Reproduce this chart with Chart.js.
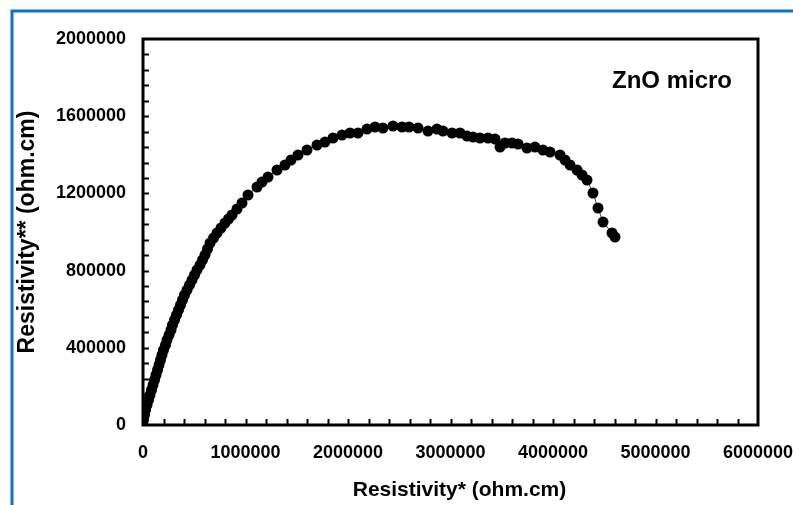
<!DOCTYPE html>
<html>
<head>
<meta charset="utf-8">
<script src="https://cdn.jsdelivr.net/npm/chart.js@4.4.1/dist/chart.umd.min.js"></script>
<style>
    html, body { margin: 0; padding: 0; background: #fff; }
    canvas { display: block; }
</style>
</head>
<body>
<canvas id="chartResistivity" width="793" height="505"></canvas>
<script>
// Resistivity* vs Resistivity** (ohm.cm), ZnO micro sample
var resX = [
    0, 4900, 14600, 24400, 39000, 53700, 68300, 82900, 97600, 112200,
    126800, 141500, 156100, 170700, 185400, 200000, 219500, 234100, 253700, 273200,
    287800, 307300, 326800, 346300, 365900, 385400, 404900, 429300, 453700, 478000,
    502400, 526800, 556100, 580500, 604900, 629300, 653700, 687800, 721900, 761000,
    800000, 834100, 868300, 917100, 965900, 1024400, 1112200, 1161000, 1219500, 1307300,
    1385400, 1443900, 1512200, 1600000, 1697600, 1775600, 1853700, 1941500, 2019500, 2097600,
    2185400, 2263400, 2341000, 2439000, 2527000, 2595000, 2683000, 2780000, 2868000, 2927000,
    3015000, 3093000, 3161000, 3220000, 3288000, 3366000, 3434000, 3483000, 3532000, 3600000,
    3659000, 3746000, 3824000, 3902000, 3971000, 4068000, 4117000, 4166000, 4234000, 4283000,
    4332000, 4390000, 4439000, 4488000, 4576000, 4605000
];
var resY = [
    0, 25900, 51800, 77700, 103600, 129500, 155400, 181300, 207200, 233200,
    259100, 285000, 310900, 336800, 362700, 388600, 414500, 440400, 466300, 492200,
    518100, 544000, 569900, 595900, 621800, 647700, 673600, 699500, 725400, 751300,
    777200, 803100, 829000, 854900, 880800, 911900, 943000, 968800, 994800, 1020700,
    1046600, 1067300, 1088100, 1119200, 1150200, 1191700, 1233100, 1259000, 1284900, 1321200,
    1347100, 1373000, 1398900, 1424800, 1450700, 1466200, 1487000, 1502500, 1512900, 1512900,
    1533600, 1544000, 1538800, 1549200, 1544000, 1544000, 1538800, 1523200, 1533600, 1523200,
    1512900, 1512900, 1497300, 1492100, 1487000, 1487000, 1481800, 1440300, 1461100, 1461100,
    1456000, 1435200, 1440300, 1424800, 1414400, 1398900, 1373000, 1347100, 1321200, 1295300,
    1269300, 1202000, 1124300, 1051700, 994800, 974000
];

var xMin = 0, xMax = 6000000, xStep = 1000000, xMinorStep = 200000;
var yMin = 0, yMax = 2000000, yStep = 400000, yMinorStep = 80000;

var sampleLabel = 'ZnO micro';
var xTitle = 'Resistivity* (ohm.cm)';
var yTitle = 'Resistivity** (ohm.cm)';

var FONT_FAMILY = '"Liberation Sans", Arial, sans-serif';
var FRAME_BLUE = '#1172c6';

var points = resX.map(function (x, i) { return { x: x, y: resY[i] }; });

// blue frame behind the whole figure
var figureFrame = {
    id: 'figureFrame',
    beforeDraw: function (chart) {
        var ctx = chart.ctx;
        ctx.save();
        ctx.fillStyle = '#fff';
        ctx.fillRect(0, 0, chart.width, chart.height);
        ctx.strokeStyle = FRAME_BLUE;
        ctx.lineWidth = 3;
        ctx.beginPath();
        ctx.moveTo(12, chart.height);
        ctx.lineTo(12, 11);
        ctx.lineTo(chart.width, 11);
        ctx.stroke();
        ctx.restore();
    }
};

// plot box, inward ticks, axis titles and sample label
var plotBox = {
    id: 'plotBox',
    beforeDatasetsDraw: function (chart) {
        var ctx = chart.ctx;
        var area = chart.chartArea;
        var xs = chart.scales.x, ys = chart.scales.y;
        ctx.save();
        ctx.strokeStyle = '#000';
        ctx.lineWidth = 2;
        var v, p;
        for (v = xMin + xMinorStep; v < xMax; v += xMinorStep) {
            p = Math.round(xs.getPixelForValue(v)) + 0.5;
            ctx.beginPath();
            ctx.moveTo(p, area.bottom);
            ctx.lineTo(p, area.bottom - 6);
            ctx.stroke();
        }
        for (v = yMin + yMinorStep; v < yMax; v += yMinorStep) {
            p = Math.round(ys.getPixelForValue(v)) + 0.5;
            ctx.beginPath();
            ctx.moveTo(area.left, p);
            ctx.lineTo(area.left + 6, p);
            ctx.stroke();
        }
        ctx.lineWidth = 3;
        ctx.strokeRect(area.left, area.top, area.right - area.left, area.bottom - area.top);

        ctx.fillStyle = '#000';
        ctx.font = 'bold 24px ' + FONT_FAMILY;
        ctx.textAlign = 'right';
        ctx.textBaseline = 'middle';
        ctx.fillText(sampleLabel, area.right - 26, area.top + 42);

        ctx.font = 'bold 21px ' + FONT_FAMILY;
        ctx.textAlign = 'center';
        ctx.fillText(xTitle, (area.left + area.right) / 2 + 9, area.bottom + 65);

        ctx.font = 'bold 23px ' + FONT_FAMILY;
        ctx.translate(28, (area.top + area.bottom) / 2);
        ctx.rotate(-Math.PI / 2);
        ctx.fillText(yTitle, 0, 0);
        ctx.restore();
    }
};

var tickFont = { family: FONT_FAMILY, size: 18, weight: 'bold' };

var config = {
    type: 'scatter',
    data: {
        datasets: [{
            label: sampleLabel,
            data: points,
            showLine: true,
            borderColor: '#444',
            borderWidth: 1,
            backgroundColor: '#000',
            pointBackgroundColor: '#000',
            pointBorderColor: '#000',
            pointBorderWidth: 0,
            pointRadius: 5.5,
            pointHoverRadius: 5.5
        }]
    },
    options: {
        responsive: false,
        animation: false,
        devicePixelRatio: 1,
        layout: { padding: { left: 0, top: 39, right: 35, bottom: 0 } },
        plugins: {
            legend: { display: false },
            title: { display: false },
            tooltip: { enabled: false }
        },
        scales: {
            x: {
                type: 'linear',
                min: xMin,
                max: xMax,
                grid: { display: false, drawTicks: false },
                border: { display: false },
                ticks: {
                    stepSize: xStep,
                    padding: 17,
                    color: '#000',
                    font: tickFont,
                    maxRotation: 0,
                    callback: function (value) { return String(value); }
                },
                afterFit: function (scale) {
                    scale.height = 80;
                    scale.paddingLeft = 0;
                    scale.paddingRight = 0;
                }
            },
            y: {
                type: 'linear',
                min: yMin,
                max: yMax,
                grid: { display: false, drawTicks: false },
                border: { display: false },
                ticks: {
                    stepSize: yStep,
                    padding: 17,
                    color: '#000',
                    font: tickFont,
                    callback: function (value) { return String(value); }
                },
                afterFit: function (scale) {
                    scale.width = 143;
                    scale.paddingTop = 0;
                    scale.paddingBottom = 0;
                }
            }
        }
    },
    plugins: [figureFrame, plotBox]
};

var ctx = document.getElementById('chartResistivity').getContext('2d');
var chartResistivity = new Chart(ctx, config);
</script>
</body>
</html>
